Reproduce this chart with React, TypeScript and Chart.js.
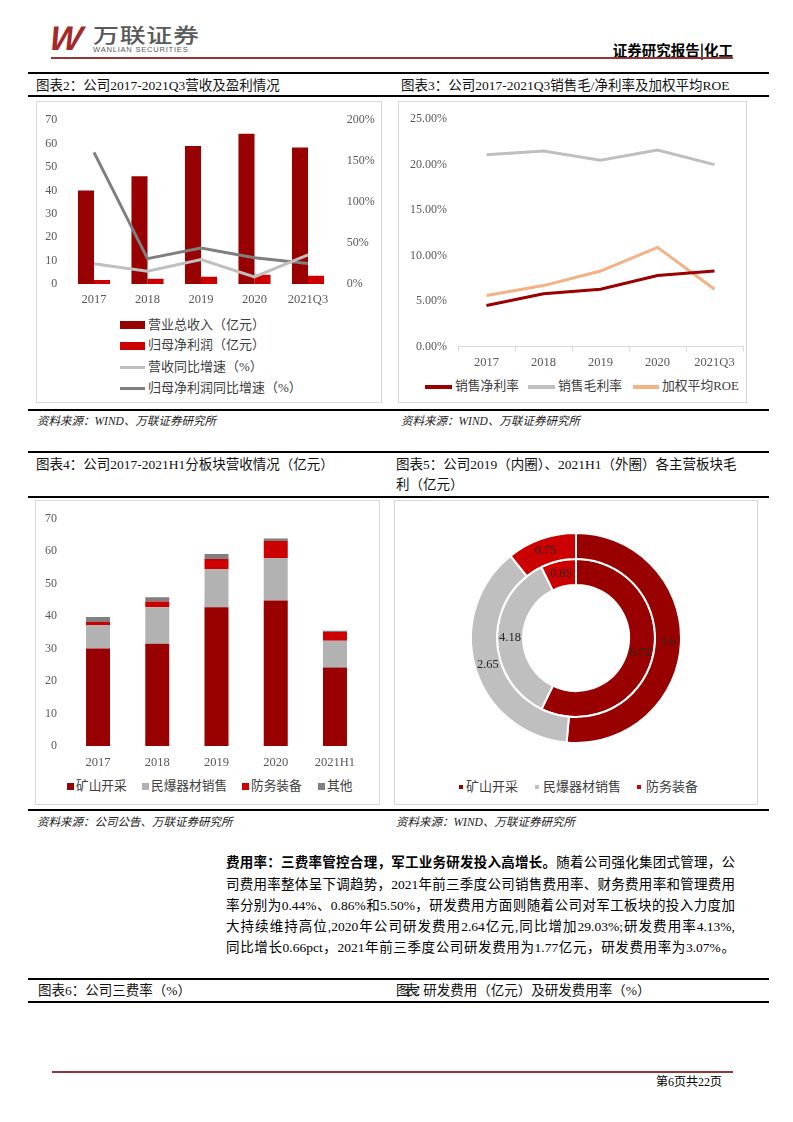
import React, { useEffect, useRef } from 'react';
import { Chart, registerables } from 'chart.js';

Chart.register(...registerables);

const SERIF = '"Liberation Serif", "Noto Sans CJK SC", serif';
const SANS = '"Noto Sans CJK SC", "Liberation Sans", sans-serif';
const TICK = '#595959';

// ---- 图表2 ----
const years2 = ['2017', '2018', '2019', '2020', '2021Q3'];
const revenue = [40.0, 46.1, 59.0, 64.2, 58.3];
const netProfit = [1.7, 2.2, 3.1, 4.0, 3.5];
const revenueYoY = [24.6, 15.5, 29.8, 8.7, 35.7];
const profitYoY = [160.7, 31.0, 44.0, 32.0, 25.0];
const legend2 = ['营业总收入（亿元）', '归母净利润（亿元）', '营收同比增速（%）', '归母净利润同比增速（%）'];

// ---- 图表3 ----
const years3 = ['2017', '2018', '2019', '2020', '2021Q3'];
const netMargin = [4.5, 5.8, 6.3, 7.8, 8.3];
const grossMargin = [21.1, 21.5, 20.5, 21.6, 20.0];
const roe = [5.6, 6.7, 8.3, 10.9, 6.3];
const legend3 = ['销售净利率', '销售毛利率', '加权平均ROE'];

// ---- 图表4 ----
const years4 = ['2017', '2018', '2019', '2020', '2021H1'];
const mining = [30.0, 31.5, 42.7, 44.8, 24.2];
const explosives = [7.3, 11.2, 11.8, 13.1, 8.2];
const defense = [0.9, 1.8, 3.1, 5.2, 2.7];
const others = [1.5, 1.3, 1.5, 0.8, 0.4];
const legend4 = ['矿山开采', '民爆器材销售', '防务装备', '其他'];

// ---- 图表5 ----
const segments5 = ['矿山开采', '民爆器材销售', '防务装备'];
const gp2021H1 = [3.6, 2.65, 0.75];
const gp2019 = [6.72, 4.18, 0.85];

const C_DARK = '#990000';
const C_RED = '#CC0000';
const C_LGRAY = '#BFBFBF';
const C_GRAY = '#7F7F7F';
const C_PEACH = '#F4B183';

function ChartBox({ left, top, width, height, make }: any) {
  const ref = useRef<HTMLCanvasElement>(null);
  useEffect(() => {
    const chart = new Chart(ref.current as HTMLCanvasElement, make());
    return () => chart.destroy();
  }, []);
  return (
    <div style={{ position: 'absolute', left, top, width, height }}>
      <canvas ref={ref} />
    </div>
  );
}

const tickFont = (size = 12) => ({ family: SERIF, size });

function makeChart2(): any {
  return {
    type: 'bar',
    data: {
      labels: years2,
      datasets: [
        { type: 'line', label: legend2[2], data: revenueYoY, yAxisID: 'y1', borderColor: C_LGRAY, borderWidth: 3, pointRadius: 0, order: 0 },
        { type: 'line', label: legend2[3], data: profitYoY, yAxisID: 'y1', borderColor: C_GRAY, borderWidth: 3, pointRadius: 0, order: 0 },
        { type: 'bar', label: legend2[0], data: revenue, yAxisID: 'y', backgroundColor: C_DARK, order: 1, categoryPercentage: 0.6, barPercentage: 1 },
        { type: 'bar', label: legend2[1], data: netProfit, yAxisID: 'y', backgroundColor: C_RED, order: 1, categoryPercentage: 0.6, barPercentage: 1 },
      ],
    },
    options: {
      animation: false,
      responsive: true,
      maintainAspectRatio: false,
      layout: { padding: { top: 15, left: 0, right: 0, bottom: 0 } },
      plugins: { legend: { display: false }, tooltip: { enabled: false } },
      scales: {
        x: {
          grid: { display: false, drawTicks: false },
          border: { display: false },
          ticks: { font: tickFont(12.5), color: TICK, padding: 8 },
          afterFit: (s: any) => { s.height = 26; },
        },
        y: {
          position: 'left', min: 0, max: 70,
          grid: { display: false, drawTicks: false },
          border: { display: false },
          ticks: { stepSize: 10, font: tickFont(12), color: TICK, padding: 10 },
          afterFit: (s: any) => { s.width = 31.25; },
        },
        y1: {
          position: 'right', min: 0, max: 200,
          grid: { display: false, drawTicks: false },
          border: { display: false },
          ticks: { stepSize: 50, font: tickFont(12), color: TICK, padding: 12, callback: (v: any) => v + '%' },
          afterFit: (s: any) => { s.width = 47.25; },
        },
      },
    },
  };
}

function makeChart3(): any {
  const ds = (label: string, data: number[], color: string) => ({
    label, data, borderColor: color, backgroundColor: color, borderWidth: 3, pointRadius: 0, tension: 0,
  });
  return {
    type: 'line',
    data: {
      labels: years3,
      datasets: [ds(legend3[0], netMargin, C_DARK), ds(legend3[1], grossMargin, C_LGRAY), ds(legend3[2], roe, C_PEACH)],
    },
    options: {
      animation: false,
      responsive: true,
      maintainAspectRatio: false,
      layout: { padding: { top: 14.5, left: 0, right: 4, bottom: 0 } },
      plugins: { legend: { display: false }, tooltip: { enabled: false } },
      scales: {
        x: {
          offset: true,
          grid: { display: true, offset: true, drawOnChartArea: false, drawTicks: true, tickLength: 5, color: '#D9D9D9' },
          border: { display: true, color: '#D9D9D9', width: 1 },
          ticks: { font: tickFont(12.5), color: TICK, padding: 4 },
          afterFit: (s: any) => { s.height = 26.5; },
        },
        y: {
          min: 0, max: 25,
          grid: { display: false, drawTicks: false },
          border: { display: false },
          ticks: { stepSize: 5, font: tickFont(12), color: TICK, padding: 11, callback: (v: any) => Number(v).toFixed(2) + '%' },
          afterFit: (s: any) => { s.width = 60; },
        },
      },
    },
  };
}

function makeChart4(): any {
  const ds = (label: string, data: number[], color: string) => ({
    label, data, backgroundColor: color, categoryPercentage: 1, barPercentage: 0.405,
  });
  return {
    type: 'bar',
    data: {
      labels: years4,
      datasets: [
        ds(legend4[0], mining, C_DARK),
        ds(legend4[1], explosives, '#B2B2B2'),
        ds(legend4[2], defense, C_RED),
        ds(legend4[3], others, '#808080'),
      ],
    },
    options: {
      animation: false,
      responsive: true,
      maintainAspectRatio: false,
      layout: { padding: { top: 15, left: 0, right: 15.4, bottom: 0 } },
      plugins: { legend: { display: false }, tooltip: { enabled: false } },
      scales: {
        x: {
          stacked: true,
          grid: { display: false, drawTicks: false },
          border: { display: false },
          ticks: { font: tickFont(12.5), color: TICK, padding: 9 },
          afterFit: (s: any) => { s.height = 29; },
        },
        y: {
          stacked: true, min: 0, max: 70,
          grid: { display: false, drawTicks: false },
          border: { display: false },
          ticks: { stepSize: 10, font: tickFont(12), color: TICK, padding: 11.5 },
          afterFit: (s: any) => { s.width = 33.4; },
        },
      },
    },
  };
}

const donutLabels = {
  id: 'donutLabels',
  afterDatasetsDraw(chart: any) {
    const ctx = chart.ctx;
    chart.data.datasets.forEach((d: any, i: number) => {
      const meta = chart.getDatasetMeta(i);
      meta.data.forEach((arc: any, j: number) => {
        const p = arc.tooltipPosition();
        ctx.save();
        ctx.font = `12.5px ${SERIF}`;
        ctx.fillStyle = '#262626';
        ctx.textAlign = 'center';
        ctx.textBaseline = 'middle';
        ctx.fillText(String(d.data[j]), p.x, p.y);
        ctx.restore();
      });
    });
  },
};

function makeChart5(): any {
  const colors = [C_DARK, C_LGRAY, C_RED];
  return {
    type: 'doughnut',
    data: {
      labels: segments5,
      datasets: [
        { label: '2021H1', data: gp2021H1, backgroundColor: colors, borderColor: '#ffffff', borderWidth: 2 },
        { label: '2019', data: gp2019, backgroundColor: colors, borderColor: '#ffffff', borderWidth: 2 },
      ],
    },
    options: {
      animation: false,
      responsive: true,
      maintainAspectRatio: false,
      radius: 105,
      cutout: '50.5%',
      layout: { padding: 0 },
      plugins: { legend: { display: false }, tooltip: { enabled: false } },
    },
    plugins: [donutLabels],
  };
}

function Txt({ x, y, size = 13, children, style = {}, h }: any) {
  const lh = h || size * 1.4;
  return (
    <div style={{ position: 'absolute', left: x, top: y - lh / 2, lineHeight: lh + 'px', fontSize: size, fontFamily: SERIF, whiteSpace: 'nowrap', color: '#000', ...style }}>
      {children}
    </div>
  );
}

function HLine({ x1, x2, y, t = 2, color = '#000' }: any) {
  return <div style={{ position: 'absolute', left: x1, top: y - t / 2, width: x2 - x1, height: t, background: color }} />;
}

function Box({ x1, x2, y1, y2 }: any) {
  return <div style={{ position: 'absolute', left: x1, top: y1, width: x2 - x1, height: y2 - y1, border: '1px solid #D9D9D9', boxSizing: 'border-box' }} />;
}

function Swatch({ x, y, w, h, color }: any) {
  return <div style={{ position: 'absolute', left: x, top: y - h / 2, width: w, height: h, background: color }} />;
}

const paraLines: any[] = [
  [<b key="b" style={{ fontWeight: 700 }}>费用率：三费率管控合理，军工业务研发投入高增长。</b>, '随着公司强化集团式管理，公'],
  ['司费用率整体呈下调趋势，2021年前三季度公司销售费用率、财务费用率和管理费用'],
  ['率分别为0.44%、0.86%和5.50%，研发费用方面则随着公司对军工板块的投入力度加'],
  ['大持续维持高位,2020年公司研发费用2.64亿元,同比增加29.03%;研发费用率4.13%,'],
  ['同比增长0.66pct，2021年前三季度公司研发费用为1.77亿元，研发费用率为3.07%。'],
];

export default function App() {
  const capStyle = { fontSize: 13.5, color: '#111' };
  const srcStyle = { fontStyle: 'italic', color: '#222' };
  return (
    <div style={{ position: 'absolute', left: 0, top: 0, width: 793, height: 1122, background: '#fff', overflow: 'hidden', fontFamily: SERIF }}>
      {/* header */}
      <div style={{ position: 'absolute', left: 50, top: 21, fontFamily: '"Liberation Sans", sans-serif', fontWeight: 700, fontStyle: 'italic', fontSize: 34, lineHeight: '34px', color: '#A32A29', transform: 'skewX(-8deg)' }}>W</div>
      <div style={{ position: 'absolute', left: 93, top: 23, fontFamily: SANS, fontWeight: 500, fontSize: 20, lineHeight: '24px', color: '#5A5A5A', transform: 'scaleX(1.3)', transformOrigin: 'left center', letterSpacing: 0.5 }}>万联证券</div>
      <div style={{ position: 'absolute', left: 93, top: 45, fontFamily: '"Liberation Sans", sans-serif', fontSize: 7.6, lineHeight: '9px', color: '#5A5A5A', letterSpacing: 0.75 }}>WANLIAN SECURITIES</div>
      <div style={{ position: 'absolute', right: 793 - 733, top: 40, fontFamily: SANS, fontWeight: 700, fontSize: 14.5, lineHeight: '20px', color: '#000' }}>证券研究报告|化工</div>
      <HLine x1={51} x2={733} y={58} t={1.2} color="#943634" />

      {/* row 1 captions */}
      <HLine x1={28} x2={769} y={73} />
      <Txt x={36} y={86} style={capStyle}>图表2：公司2017-2021Q3营收及盈利情况</Txt>
      <Txt x={401} y={86} style={capStyle}>图表3：公司2017-2021Q3销售毛/净利率及加权平均ROE</Txt>
      <HLine x1={28} x2={769} y={96} />

      <Box x1={36} x2={382} y1={101} y2={403} />
      <Box x1={398} x2={747} y1={101} y2={403} />
      <ChartBox left={36} top={101} width={346} height={209} make={makeChart2} />
      <ChartBox left={398} top={101} width={349} height={272} make={makeChart3} />

      {/* chart 2 legend */}
      <Swatch x={120} y={325} w={25} h={8} color={C_DARK} />
      <Swatch x={120} y={345.5} w={25} h={8} color={C_RED} />
      <Swatch x={120} y={367} w={25} h={3} color={C_LGRAY} />
      <Swatch x={120} y={388} w={25} h={3} color={C_GRAY} />
      <Txt x={148} y={325} size={13} style={{ color: '#404040' }}>{legend2[0]}</Txt>
      <Txt x={148} y={345.5} size={13} style={{ color: '#404040' }}>{legend2[1]}</Txt>
      <Txt x={148} y={367} size={13} style={{ color: '#404040' }}>{legend2[2]}</Txt>
      <Txt x={148} y={388} size={13} style={{ color: '#404040' }}>{legend2[3]}</Txt>

      {/* chart 3 legend */}
      <Swatch x={425} y={386.7} w={27} h={4} color={C_DARK} />
      <Txt x={455} y={386.7} size={12.8} style={{ color: '#404040' }}>{legend3[0]}</Txt>
      <Swatch x={528} y={386.7} w={27} h={4} color={C_LGRAY} />
      <Txt x={558} y={386.7} size={12.8} style={{ color: '#404040' }}>{legend3[1]}</Txt>
      <Swatch x={633} y={386.7} w={26} h={4} color={C_PEACH} />
      <Txt x={662} y={386.7} size={12.8} style={{ color: '#404040' }}>{legend3[2]}</Txt>

      <HLine x1={28} x2={769} y={410} />
      <Txt x={37} y={421.5} size={11.5} style={srcStyle}>资料来源：WIND、万联证券研究所</Txt>
      <Txt x={401} y={421.5} size={11.5} style={srcStyle}>资料来源：WIND、万联证券研究所</Txt>

      {/* row 2 */}
      <HLine x1={28} x2={769} y={452} />
      <Txt x={36} y={465} style={capStyle}>图表4：公司2017-2021H1分板块营收情况（亿元）</Txt>
      <Txt x={396} y={465} style={capStyle}>图表5：公司2019（内圈）、2021H1（外圈）各主营板块毛</Txt>
      <Txt x={396} y={485} style={capStyle}>利（亿元）</Txt>
      <HLine x1={28} x2={769} y={497} />

      <Box x1={35} x2={380} y1={500} y2={805} />
      <Box x1={394} x2={758} y1={500} y2={805} />
      <ChartBox left={35} top={500} width={345} height={275} make={makeChart4} />
      <ChartBox left={394} top={500} width={364} height={276} make={makeChart5} />

      {/* chart 4 legend */}
      <Swatch x={67} y={786.7} w={7} h={7} color={C_DARK} />
      <Txt x={76} y={786.7} size={12.7} style={{ color: '#404040' }}>{legend4[0]}</Txt>
      <Swatch x={142} y={786.7} w={7} h={7} color="#B2B2B2" />
      <Txt x={151} y={786.7} size={12.7} style={{ color: '#404040' }}>{legend4[1]}</Txt>
      <Swatch x={242} y={786.7} w={7} h={7} color={C_RED} />
      <Txt x={251} y={786.7} size={12.7} style={{ color: '#404040' }}>{legend4[2]}</Txt>
      <Swatch x={318} y={786.7} w={7} h={7} color="#808080" />
      <Txt x={327} y={786.7} size={12.7} style={{ color: '#404040' }}>{legend4[3]}</Txt>

      {/* chart 5 legend */}
      <Swatch x={459} y={787} w={4} h={4} color={C_DARK} />
      <Txt x={466} y={787} size={13} style={{ color: '#404040' }}>{segments5[0]}</Txt>
      <Swatch x={535} y={787} w={4} h={4} color={C_LGRAY} />
      <Txt x={543} y={787} size={13} style={{ color: '#404040' }}>{segments5[1]}</Txt>
      <Swatch x={637} y={787} w={4} h={4} color={C_RED} />
      <Txt x={646} y={787} size={13} style={{ color: '#404040' }}>{segments5[2]}</Txt>

      <HLine x1={28} x2={769} y={810} />
      <Txt x={37} y={822} size={11.5} style={srcStyle}>资料来源：公司公告、万联证券研究所</Txt>
      <Txt x={396} y={822} size={11.5} style={srcStyle}>资料来源：WIND、万联证券研究所</Txt>

      {/* paragraph */}
      {paraLines.map((ln, i) => (
        <div key={i} style={{ position: 'absolute', left: 226, top: 852.4 + i * 21.2, width: 509, lineHeight: '21.2px', fontSize: 13.5, fontFamily: SERIF, color: '#000', textAlign: 'justify', textAlignLast: 'justify' as any }}>
          {ln}
        </div>
      ))}

      {/* row 3 captions */}
      <HLine x1={28} x2={769} y={979} />
      <Txt x={38} y={991} style={capStyle}>图表6：公司三费率（%）</Txt>
      <Txt x={396} y={991} style={capStyle}><span style={{ letterSpacing: -5 }}>图表7：</span>研发费用（亿元）及研发费用率（%）</Txt>
      <HLine x1={28} x2={769} y={1002} />

      {/* footer */}
      <HLine x1={52} x2={733} y={1071.7} t={2} color="#943634" />
      <div style={{ position: 'absolute', right: 793 - 722, top: 1074, fontSize: 12, lineHeight: '16px', fontFamily: SERIF, color: '#000' }}>第6页共22页</div>
    </div>
  );
}
